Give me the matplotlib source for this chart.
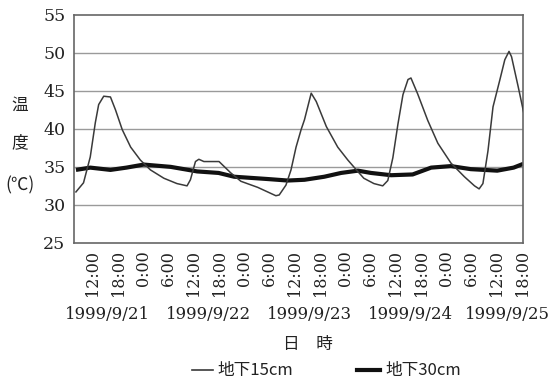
import matplotlib
matplotlib.use("Agg")
import matplotlib.pyplot as plt

# hours since 1999/9/21 0:00
hours_15 = [8.0, 9.8, 11.4, 12.6, 13.4, 14.6, 16.2, 17.4, 19.0, 21.0, 23.3, 25.7,
            28.9, 32.0, 34.4, 35.2, 36.4, 37.2, 38.4, 42.0, 44.8, 47.2, 51.2, 55.5,
            56.3, 57.9, 59.1, 60.3, 61.5, 62.3, 63.9, 65.1, 67.5, 70.2, 72.6, 74.8,
            76.4, 78.8, 80.9, 82.1, 83.3, 84.5, 85.7, 86.9, 87.6, 89.2, 91.6, 94.0,
            97.1, 100.3, 102.7, 103.8, 104.7, 105.9, 107.1, 108.7, 109.9, 110.9,
            111.5, 113.1, 114.6]
temp_15 = [31.7, 32.9, 36.3, 40.8, 43.2, 44.3, 44.2, 42.5, 39.9, 37.6, 35.9, 34.6,
           33.5, 32.8, 32.5, 33.3, 35.7, 36.0, 35.7, 35.7, 34.2, 33.1, 32.3, 31.2,
           31.3, 32.6, 34.6, 37.6, 39.9, 41.2, 44.7, 43.6, 40.3, 37.6, 35.9, 34.5,
           33.5, 32.8, 32.5, 33.2, 36.2, 40.6, 44.5, 46.5, 46.7, 44.6, 41.1, 38.1,
           35.5, 33.7, 32.5, 32.1, 32.8, 37.1, 42.9, 46.4, 49.1, 50.2,
           49.5, 45.5, 41.6]

hours_30 = [8.0, 11.4, 16.2, 20.0, 24.1, 30.5, 36.8, 41.9, 45.6, 53.5, 58.3, 62.3,
            67.0, 71.0, 75.0, 78.1, 82.9, 88.0, 92.4, 97.1, 101.8, 108.1, 112.0, 114.3]
temp_30 = [34.6, 34.9, 34.6, 34.9, 35.3, 35.0, 34.4, 34.2, 33.7, 33.4, 33.2, 33.3,
           33.7, 34.2, 34.5, 34.2, 33.9, 34.0, 34.9, 35.1, 34.7, 34.5, 34.9, 35.4]

tick_hours = [12, 18, 24, 30, 36, 42, 48, 54, 60, 66, 72, 78, 84, 90, 96, 102, 108, 114]
tick_labels = ["12:00", "18:00", "0:00", "6:00"] * 4 + ["12:00", "18:00"]
date_labels = ["1999/9/21", "1999/9/22", "1999/9/23", "1999/9/24", "1999/9/25"]
date_hours = [15.5, 39.5, 63.5, 87.5, 110.5]
y_ticks = [25, 30, 35, 40, 45, 50, 55]

serif = "DejaVu Serif"
cjk = ["Noto Sans CJK JP", "DejaVu Serif"]
tcol = "#222222"

fig = plt.figure(figsize=(5.51, 3.83), dpi=100)
ax = fig.add_axes([0.134, 0.366, 0.815, 0.595])

for y in y_ticks[1:-1]:
    ax.axhline(y, color="#9a9a9a", lw=1.0, zorder=1)

ax.plot(hours_30, temp_30, color="#111111", lw=3.0, zorder=2, solid_capstyle="butt")
ax.plot(hours_15, temp_15, color="#3a3a3a", lw=1.1, zorder=3)

ax.set_xlim(7.5, 114.2)
ax.set_ylim(25, 55)
ax.set_yticks(y_ticks)
ax.set_yticklabels([str(v) for v in y_ticks], family=serif, fontsize=12.5, color=tcol)
ax.set_xticks(tick_hours)
ax.set_xticklabels(tick_labels, rotation=90, family=serif, fontsize=11.5, color=tcol)
ax.tick_params(length=0)
ax.tick_params(axis="x", pad=5)
ax.tick_params(axis="y", pad=6)
for s in ax.spines.values():
    s.set_color("#666666")
    s.set_linewidth(1.2)

for h, lab in zip(date_hours, date_labels):
    ax.text(h, -0.316, lab, transform=ax.get_xaxis_transform(), ha="center", va="center",
            family=serif, fontsize=12, color=tcol)

fig.text(308 / 551, 1 - 345 / 383, "日　時", ha="center", va="center", family=cjk,
         fontsize=12, color=tcol)

# y label stacked
fig.text(20 / 551, 1 - 105 / 383, "温", ha="center", va="center", family=cjk, fontsize=12, color=tcol)
fig.text(20 / 551, 1 - 143 / 383, "度", ha="center", va="center", family=cjk, fontsize=12, color=tcol)
fig.text(20 / 551, 1 - 185 / 383, "(℃)", ha="center", va="center", family=cjk, fontsize=12.5, color=tcol)

# legend
fig.lines.append(plt.Line2D([192 / 551, 213 / 551], [1 - 370 / 383] * 2, transform=fig.transFigure,
                            color="#3a3a3a", lw=1.2))
fig.text(217 / 551, 1 - 370 / 383, "地下15cm", ha="left", va="center", family=cjk, fontsize=12, color=tcol)
fig.lines.append(plt.Line2D([357 / 551, 380 / 551], [1 - 370 / 383] * 2, transform=fig.transFigure,
                            color="#111111", lw=3.0))
fig.text(385 / 551, 1 - 370 / 383, "地下30cm", ha="left", va="center", family=cjk, fontsize=12, color=tcol)

fig.savefig("out.png", dpi=100, facecolor="white")
